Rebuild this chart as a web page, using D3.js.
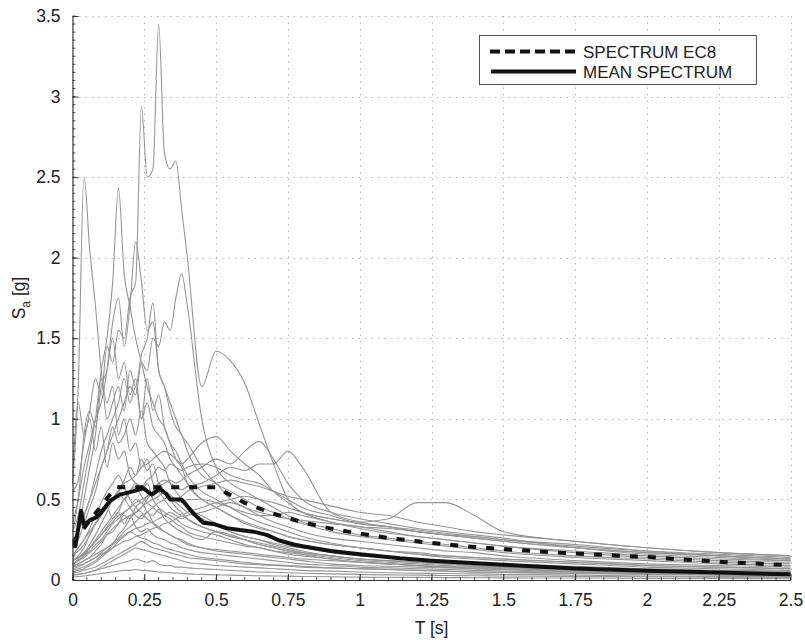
<!DOCTYPE html>
<html><head><meta charset="utf-8">
<script src="https://cdn.jsdelivr.net/npm/d3@7"></script>
<style>body{margin:0;background:#fff;} svg{display:block;font-family:"Liberation Sans",Arial,sans-serif;}</style>
</head><body><svg id="chart" width="805" height="640"></svg>
<script>
// Period grid for the recorded spectra [s]
const periods = [0,0.02,0.04,0.06,0.08,0.1,0.12,0.14,0.16,0.18,0.2,0.22,0.24,0.26,0.28,0.3,0.32,0.34,0.36,0.38,0.4,0.45,0.5,0.55,0.6,0.65,0.7,0.75,0.8,0.9,1.0,1.1,1.2,1.3,1.4,1.5,1.75,2.0,2.25,2.5];
// Individual record spectra Sa [g]
const r01 = [0.55,0.62,0.85,1.05,1.25,1.15,1.45,1.35,1.55,1.5,1.75,1.85,2.94,2.5,2.55,3.45,2.65,2.55,2.6,2.3,2.0,1.2,1.42,1.36,1.22,0.97,0.72,0.5,0.42,0.38,0.35,0.33,0.31,0.29,0.27,0.25,0.21,0.18,0.16,0.14];
const r02 = [0.6,1.2,2.5,2.05,1.7,1.3,1.1,1.2,0.9,1.0,0.8,0.85,0.7,0.75,0.6,0.55,0.5,0.45,0.42,0.4,0.38,0.33,0.3,0.27,0.25,0.22,0.2,0.18,0.16,0.13,0.11,0.1,0.09,0.08,0.07,0.065,0.05,0.04,0.035,0.03];
const r03 = [0.3,0.4,0.6,0.8,1.0,1.3,1.5,1.85,2.43,1.9,1.7,1.5,1.35,1.2,1.1,1.0,0.95,0.85,0.8,0.72,0.65,0.55,0.5,0.45,0.4,0.36,0.33,0.3,0.27,0.23,0.2,0.18,0.16,0.14,0.13,0.12,0.1,0.08,0.07,0.06];
const r04 = [0.35,0.5,0.7,0.85,1.0,1.1,1.3,1.6,1.75,1.45,1.7,2.1,1.85,1.55,1.6,1.3,1.2,1.1,1.0,0.9,0.85,0.7,0.6,0.55,0.5,0.45,0.42,0.38,0.35,0.3,0.27,0.25,0.23,0.21,0.19,0.17,0.14,0.12,0.1,0.09];
const r05 = [0.25,0.3,0.4,0.5,0.6,0.7,0.8,0.9,1.0,1.1,1.2,1.15,1.35,1.3,1.5,1.45,1.6,1.55,1.75,1.9,1.7,1.0,0.7,0.6,0.55,0.5,0.45,0.4,0.36,0.32,0.28,0.26,0.24,0.22,0.2,0.18,0.15,0.13,0.11,0.1];
const r06 = [0.2,0.3,0.5,0.7,0.9,1.25,1.0,1.1,1.2,1.05,1.3,1.2,1.4,1.5,1.72,1.3,1.2,1.05,0.95,0.9,0.8,0.65,0.6,0.5,0.45,0.4,0.36,0.33,0.3,0.26,0.24,0.22,0.2,0.18,0.17,0.15,0.12,0.1,0.09,0.08];
const r07 = [0.6,1.1,0.9,1.0,0.8,0.95,0.7,0.85,0.75,0.8,0.65,0.6,0.55,0.6,0.5,0.45,0.42,0.4,0.38,0.35,0.33,0.3,0.28,0.25,0.22,0.2,0.18,0.16,0.15,0.13,0.11,0.1,0.09,0.08,0.075,0.07,0.06,0.05,0.045,0.04];
const r08 = [0.3,0.5,0.9,1.05,0.95,1.2,1.3,1.5,1.25,1.35,1.15,1.25,1.0,1.1,0.95,0.9,0.85,0.75,0.7,0.65,0.6,0.5,0.45,0.4,0.36,0.33,0.3,0.27,0.25,0.22,0.2,0.18,0.17,0.15,0.14,0.13,0.11,0.09,0.08,0.07];
const r09 = [0.15,0.18,0.22,0.28,0.35,0.4,0.45,0.5,0.55,0.6,0.62,0.65,0.7,0.72,0.75,0.78,0.8,0.78,0.75,0.72,0.75,0.85,0.89,0.8,0.72,0.65,0.55,0.48,0.42,0.36,0.33,0.3,0.27,0.25,0.23,0.21,0.17,0.14,0.12,0.11];
const r10 = [0.1,0.12,0.15,0.18,0.22,0.25,0.3,0.35,0.38,0.42,0.45,0.5,0.48,0.52,0.55,0.58,0.6,0.62,0.6,0.62,0.65,0.7,0.75,0.72,0.8,0.86,0.75,0.6,0.5,0.42,0.38,0.35,0.32,0.3,0.28,0.26,0.2,0.16,0.14,0.12];
const r11 = [0.12,0.14,0.16,0.2,0.24,0.28,0.32,0.36,0.4,0.42,0.45,0.48,0.5,0.52,0.55,0.6,0.62,0.6,0.58,0.56,0.58,0.6,0.65,0.7,0.68,0.72,0.72,0.8,0.7,0.42,0.36,0.33,0.3,0.28,0.26,0.24,0.2,0.17,0.15,0.13];
const r12 = [0.08,0.09,0.1,0.12,0.14,0.16,0.18,0.2,0.22,0.24,0.25,0.27,0.28,0.3,0.32,0.33,0.35,0.36,0.38,0.4,0.42,0.45,0.48,0.5,0.52,0.5,0.48,0.45,0.42,0.38,0.36,0.38,0.48,0.48,0.4,0.3,0.24,0.2,0.17,0.15];
const r13 = [0.15,0.2,0.25,0.3,0.35,0.4,0.45,0.5,0.55,0.5,0.55,0.6,0.58,0.62,0.65,0.7,0.68,0.72,0.7,0.68,0.7,0.72,0.7,0.65,0.62,0.6,0.55,0.5,0.45,0.4,0.35,0.33,0.3,0.28,0.26,0.24,0.2,0.17,0.15,0.13];
const r14 = [0.2,0.25,0.35,0.45,0.55,0.7,0.8,0.95,0.85,0.9,1.0,0.9,1.05,0.85,0.8,0.75,0.7,0.6,0.55,0.5,0.45,0.4,0.35,0.3,0.27,0.25,0.22,0.2,0.18,0.15,0.13,0.12,0.11,0.1,0.09,0.085,0.07,0.06,0.05,0.045];
const r15 = [0.1,0.12,0.15,0.2,0.25,0.3,0.35,0.4,0.45,0.5,0.55,0.58,0.52,0.48,0.45,0.42,0.4,0.38,0.35,0.33,0.3,0.27,0.25,0.23,0.21,0.2,0.18,0.17,0.16,0.14,0.12,0.11,0.1,0.09,0.085,0.08,0.07,0.06,0.05,0.045];
const r16 = [0.08,0.1,0.12,0.14,0.18,0.22,0.28,0.3,0.35,0.4,0.38,0.45,0.48,0.42,0.4,0.44,0.38,0.35,0.32,0.3,0.28,0.25,0.3,0.28,0.25,0.22,0.2,0.18,0.17,0.15,0.13,0.12,0.11,0.1,0.09,0.085,0.075,0.065,0.055,0.05];
const r17 = [0.12,0.14,0.17,0.2,0.24,0.28,0.33,0.38,0.42,0.5,0.45,0.4,0.38,0.42,0.36,0.33,0.3,0.28,0.26,0.25,0.23,0.2,0.19,0.18,0.17,0.16,0.15,0.14,0.13,0.12,0.11,0.1,0.09,0.085,0.08,0.075,0.065,0.055,0.05,0.045];
const r18 = [0.06,0.07,0.08,0.1,0.12,0.15,0.18,0.22,0.28,0.32,0.38,0.42,0.45,0.5,0.55,0.6,0.55,0.5,0.45,0.42,0.38,0.33,0.3,0.27,0.25,0.23,0.21,0.19,0.17,0.15,0.13,0.12,0.11,0.1,0.09,0.08,0.07,0.06,0.05,0.045];
const r19 = [0.05,0.06,0.07,0.09,0.11,0.14,0.17,0.2,0.24,0.27,0.3,0.28,0.26,0.25,0.23,0.22,0.2,0.19,0.18,0.17,0.16,0.14,0.13,0.12,0.11,0.1,0.095,0.09,0.085,0.075,0.07,0.065,0.06,0.055,0.05,0.048,0.042,0.037,0.033,0.03];
const r20 = [0.03,0.035,0.04,0.05,0.06,0.07,0.08,0.09,0.1,0.11,0.12,0.13,0.12,0.11,0.12,0.1,0.09,0.09,0.08,0.08,0.075,0.07,0.065,0.06,0.055,0.05,0.048,0.045,0.042,0.038,0.035,0.032,0.03,0.028,0.026,0.025,0.022,0.02,0.018,0.016];
const r21 = [0.07,0.08,0.1,0.12,0.14,0.17,0.2,0.22,0.25,0.28,0.3,0.32,0.33,0.35,0.36,0.38,0.4,0.42,0.4,0.38,0.4,0.42,0.45,0.48,0.45,0.42,0.4,0.38,0.37,0.35,0.33,0.32,0.3,0.28,0.27,0.25,0.22,0.18,0.15,0.13];
const r22 = [0.1,0.12,0.14,0.17,0.2,0.24,0.28,0.32,0.35,0.38,0.4,0.42,0.45,0.48,0.5,0.52,0.55,0.53,0.5,0.52,0.55,0.58,0.6,0.62,0.6,0.58,0.55,0.52,0.5,0.46,0.42,0.4,0.36,0.33,0.3,0.28,0.24,0.2,0.17,0.15];
const r23 = [0.04,0.05,0.06,0.07,0.08,0.1,0.12,0.14,0.16,0.18,0.2,0.22,0.24,0.22,0.2,0.19,0.18,0.17,0.16,0.15,0.14,0.13,0.12,0.11,0.1,0.095,0.09,0.085,0.08,0.075,0.07,0.065,0.06,0.055,0.05,0.047,0.04,0.035,0.03,0.027];
const r24 = [0.15,0.2,0.25,0.32,0.4,0.48,0.55,0.6,0.65,0.58,0.5,0.45,0.42,0.38,0.35,0.32,0.3,0.28,0.26,0.24,0.22,0.2,0.18,0.17,0.16,0.15,0.14,0.13,0.12,0.1,0.09,0.085,0.08,0.075,0.07,0.065,0.055,0.045,0.04,0.035];
const r25 = [0.09,0.1,0.12,0.14,0.16,0.18,0.2,0.23,0.26,0.3,0.33,0.36,0.4,0.42,0.45,0.48,0.5,0.52,0.5,0.48,0.5,0.5,0.48,0.45,0.42,0.4,0.4,0.42,0.4,0.36,0.32,0.29,0.27,0.25,0.23,0.21,0.18,0.15,0.13,0.12];
const r26 = [0.02,0.022,0.025,0.03,0.035,0.04,0.045,0.05,0.055,0.06,0.06,0.065,0.06,0.058,0.055,0.05,0.048,0.045,0.043,0.04,0.038,0.035,0.032,0.03,0.028,0.026,0.025,0.024,0.022,0.02,0.018,0.017,0.016,0.015,0.014,0.013,0.012,0.01,0.009,0.008];
const r27 = [0.12,0.15,0.2,0.28,0.35,0.4,0.45,0.38,0.42,0.35,0.4,0.33,0.3,0.32,0.28,0.26,0.25,0.23,0.22,0.2,0.19,0.17,0.16,0.15,0.14,0.13,0.12,0.11,0.1,0.09,0.08,0.075,0.07,0.065,0.06,0.055,0.048,0.042,0.037,0.033];
const r28 = [0.1,0.13,0.17,0.22,0.28,0.35,0.42,0.5,0.55,0.62,0.7,0.65,0.75,0.68,0.72,0.6,0.55,0.5,0.48,0.45,0.42,0.38,0.34,0.3,0.27,0.25,0.23,0.21,0.2,0.17,0.15,0.14,0.13,0.12,0.11,0.1,0.085,0.07,0.06,0.055];
const r29 = [0.25,0.3,0.4,0.5,0.65,0.8,0.9,1.0,1.1,1.25,1.1,1.2,1.0,1.25,1.05,1.15,0.95,0.85,0.75,0.7,0.6,0.5,0.45,0.4,0.35,0.32,0.3,0.27,0.25,0.22,0.2,0.18,0.16,0.15,0.14,0.13,0.11,0.09,0.08,0.07];
const r30 = [0.03,0.035,0.04,0.05,0.06,0.08,0.1,0.12,0.14,0.16,0.18,0.2,0.19,0.18,0.17,0.16,0.15,0.14,0.13,0.12,0.11,0.1,0.09,0.085,0.08,0.075,0.07,0.065,0.06,0.055,0.05,0.045,0.042,0.04,0.038,0.035,0.03,0.025,0.022,0.02];
const records = [r01,r02,r03,r04,r05,r06,r07,r08,r09,r10,r11,r12,r13,r14,r15,r16,r17,r18,r19,r20,r21,r22,r23,r24,r25,r26,r27,r28,r29,r30];

// Mean spectrum
const meanPeriods = [0,0.01,0.03,0.04,0.06,0.084,0.1,0.13,0.165,0.21,0.246,0.276,0.305,0.328,0.34,0.38,0.42,0.455,0.49,0.537,0.583,0.63,0.676,0.72,0.77,0.8,0.9,1.0,1.14,1.25,1.5,1.75,2.0,2.25,2.5];
const meanValues = [0.23,0.21,0.43,0.34,0.37,0.39,0.42,0.49,0.53,0.55,0.57,0.53,0.565,0.53,0.5,0.5,0.415,0.355,0.348,0.322,0.31,0.3,0.28,0.245,0.22,0.21,0.18,0.16,0.135,0.12,0.095,0.072,0.057,0.046,0.035];

// EC8 design spectrum
const ec8Periods = [0,0.15,0.5,0.6,0.7,0.8,0.9,1.0,1.1,1.2,1.3,1.4,1.5,1.6,1.7,1.8,1.9,2.0,2.1,2.2,2.3,2.4,2.5];
const ec8Values = [0.23,0.575,0.575,0.479,0.411,0.359,0.319,0.288,0.261,0.240,0.221,0.205,0.192,0.180,0.169,0.160,0.151,0.144,0.130,0.119,0.109,0.100,0.092];

const xTicks = [0,0.25,0.5,0.75,1,1.25,1.5,1.75,2,2.25,2.5];
const xTickLabels = ["0","0.25","0.5","0.75","1","1.25","1.5","1.75","2","2.25","2.5"];
const yTicks = [0,0.5,1,1.5,2,2.5,3,3.5];
const yTickLabels = ["0","0.5","1","1.5","2","2.5","3","3.5"];
const legendLabels = ["SPECTRUM EC8","MEAN SPECTRUM"];

const svg = d3.select("#chart");
const L = 72.5, R = 790.5, T = 16, B = 580;
const x = d3.scaleLinear().domain([0,2.5]).range([L,R]);
const y = d3.scaleLinear().domain([0,3.5]).range([B,T]);

svg.append("rect").attr("width",805).attr("height",640).attr("fill","#fff");

// grid
const grid = svg.append("g").attr("stroke","#b8b8b8").attr("stroke-width",1).attr("stroke-dasharray","1.5,5");
grid.selectAll("line.v").data(xTicks.slice(1)).join("line").attr("class","v")
  .attr("x1",d=>Math.round(x(d))+0.5).attr("x2",d=>Math.round(x(d))+0.5).attr("y1",T).attr("y2",B);
grid.selectAll("line.h").data(yTicks.slice(1)).join("line").attr("class","h")
  .attr("y1",d=>Math.round(y(d))+0.5).attr("y2",d=>Math.round(y(d))+0.5).attr("x1",L).attr("x2",R);

svg.append("clipPath").attr("id","clip").append("rect").attr("x",L).attr("y",T-2).attr("width",R-L+1).attr("height",B-T+2);
const plot = svg.append("g").attr("clip-path","url(#clip)");

const recLine = d3.line().x(d=>x(d[0])).y(d=>y(d[1])).curve(d3.curveMonotoneX);
const line = d3.line().x(d=>x(d[0])).y(d=>y(d[1]));
plot.selectAll("path.rec").data(records).join("path").attr("class","rec")
  .attr("d",r=>recLine(periods.map((p,i)=>[p,r[i]])))
  .attr("fill","none").attr("stroke","#959595").attr("stroke-width",1.1);

plot.append("path").attr("d",line(ec8Periods.map((p,i)=>[p,ec8Values[i]])))
  .attr("fill","none").attr("stroke","#111").attr("stroke-width",4).attr("stroke-dasharray","8,10");
plot.append("path").attr("d",line(meanPeriods.map((p,i)=>[p,meanValues[i]])))
  .attr("fill","none").attr("stroke","#111").attr("stroke-width",4).attr("stroke-linejoin","round");

// axes
const axisColor = "#333";
const xAxis = d3.axisBottom(x).tickValues(xTicks).tickFormat((d,i)=>xTickLabels[i]).tickSizeInner(-6).tickSizeOuter(0).tickPadding(14);
const gx = svg.append("g").attr("transform",`translate(0,${B})`).call(xAxis);
const yAxis = d3.axisLeft(y).tickValues(yTicks).tickFormat((d,i)=>yTickLabels[i]).tickSizeInner(-6).tickSizeOuter(0).tickPadding(12);
const gy = svg.append("g").attr("transform",`translate(${L},0)`).call(yAxis);
[gx,gy].forEach(g=>{
  g.select(".domain").attr("stroke",axisColor).attr("stroke-width",1.2);
  g.selectAll(".tick line").attr("stroke",axisColor);
  g.selectAll(".tick text").attr("font-size","17.5px").attr("fill","#222").attr("font-family","'Liberation Sans',Arial,sans-serif");
});
// minor ticks
const xMinor = d3.range(0,2.5001,0.05);
const yMinor = d3.range(0,3.5001,0.05);
svg.append("g").selectAll("line").data(xMinor).join("line")
  .attr("x1",d=>x(d)).attr("x2",d=>x(d)).attr("y1",B).attr("y2",B-3).attr("stroke",axisColor).attr("stroke-width",0.8);
svg.append("g").selectAll("line").data(yMinor).join("line")
  .attr("y1",d=>y(d)).attr("y2",d=>y(d)).attr("x1",L).attr("x2",L+3).attr("stroke",axisColor).attr("stroke-width",0.8);

// axis labels
svg.append("text").attr("x",(L+R)/2).attr("y",634).attr("text-anchor","middle")
  .attr("font-size","17.5px").attr("fill","#222").text("T [s]");
const yl = svg.append("text").attr("transform",`translate(25,${(T+B)/2}) rotate(-90)`).attr("text-anchor","middle")
  .attr("font-size","17.5px").attr("fill","#222");
yl.append("tspan").text("S");
yl.append("tspan").attr("font-size","12px").attr("dy",5).text("a");
yl.append("tspan").attr("dy",-5).text(" [g]");

// legend
const lg = svg.append("g");
lg.append("rect").attr("x",479.5).attr("y",35.5).attr("width",277).attr("height",49)
  .attr("fill","#fff").attr("stroke","#555").attr("stroke-width",1);
lg.append("line").attr("x1",490).attr("x2",576).attr("y1",51.5).attr("y2",51.5)
  .attr("stroke","#111").attr("stroke-width",4).attr("stroke-dasharray","10,5");
lg.append("line").attr("x1",491).attr("x2",576).attr("y1",71.5).attr("y2",71.5)
  .attr("stroke","#111").attr("stroke-width",4);
lg.selectAll("text").data(legendLabels).join("text")
  .attr("x",583).attr("y",(d,i)=>58+i*20).attr("font-size","17px").attr("fill","#222").text(d=>d);
</script></body></html>
